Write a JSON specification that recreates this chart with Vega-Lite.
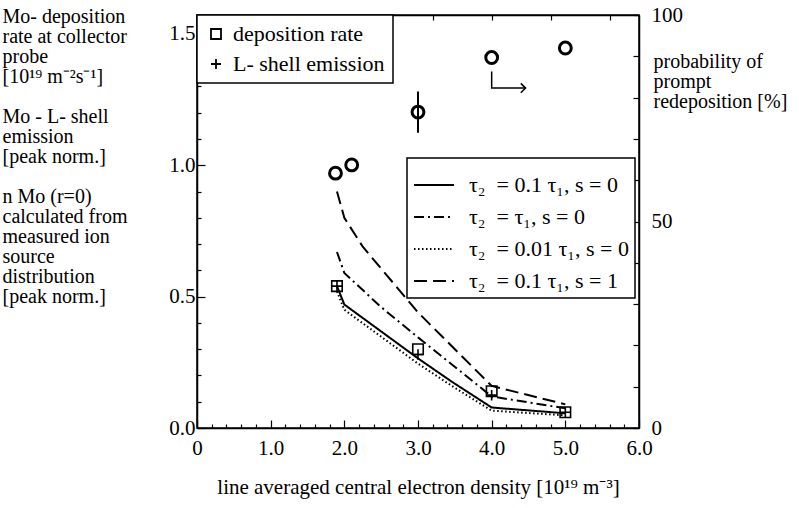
{
  "$schema": "https://vega.github.io/schema/vega-lite/v6.json",
  "width": 442,
  "height": 413,
  "autosize": {"type": "none"},
  "padding": {"left": 197, "top": 15, "right": 160, "bottom": 80},
  "background": "white",
  "config": {
    "font": "Liberation Serif",
    "view": {"stroke": "black", "strokeWidth": 1.5},
    "axis": {
      "labelFont": "Liberation Serif",
      "titleFont": "Liberation Serif",
      "labelColor": "black",
      "titleColor": "black",
      "domainColor": "black",
      "tickColor": "black",
      "grid": false,
      "titleFontWeight": "normal",
      "labelFontSize": 21,
      "titleFontSize": 21,
      "domainWidth": 1.5,
      "tickWidth": 1.2
    },
    "legend": {
      "orient": "none",
      "labelFont": "Liberation Serif",
      "labelFontSize": 22,
      "labelColor": "black",
      "strokeColor": "black",
      "strokeWidth": 1.5,
      "fillColor": "white",
      "labelLimit": 400
    }
  },
  "datasets": {
    "models": [
      {"n": 1.9, "val": 0.54, "model": "τ₂ \u00a0= 0.1 τ₁, s = 0"},
      {"n": 2.0, "val": 0.47, "model": "τ₂ \u00a0= 0.1 τ₁, s = 0"},
      {"n": 3.0, "val": 0.265, "model": "τ₂ \u00a0= 0.1 τ₁, s = 0"},
      {"n": 3.46, "val": 0.176, "model": "τ₂ \u00a0= 0.1 τ₁, s = 0"},
      {"n": 4.0, "val": 0.078, "model": "τ₂ \u00a0= 0.1 τ₁, s = 0"},
      {"n": 5.0, "val": 0.056, "model": "τ₂ \u00a0= 0.1 τ₁, s = 0"},
      {"n": 1.9, "val": 0.67, "model": "τ₂ \u00a0= τ₁, s = 0"},
      {"n": 2.0, "val": 0.59, "model": "τ₂ \u00a0= τ₁, s = 0"},
      {"n": 2.5, "val": 0.46, "model": "τ₂ \u00a0= τ₁, s = 0"},
      {"n": 3.0, "val": 0.345, "model": "τ₂ \u00a0= τ₁, s = 0"},
      {"n": 4.0, "val": 0.12, "model": "τ₂ \u00a0= τ₁, s = 0"},
      {"n": 5.0, "val": 0.075, "model": "τ₂ \u00a0= τ₁, s = 0"},
      {"n": 1.9, "val": 0.52, "model": "τ₂ \u00a0= 0.01 τ₁, s = 0"},
      {"n": 2.0, "val": 0.45, "model": "τ₂ \u00a0= 0.01 τ₁, s = 0"},
      {"n": 3.0, "val": 0.245, "model": "τ₂ \u00a0= 0.01 τ₁, s = 0"},
      {"n": 3.46, "val": 0.16, "model": "τ₂ \u00a0= 0.01 τ₁, s = 0"},
      {"n": 4.0, "val": 0.066, "model": "τ₂ \u00a0= 0.01 τ₁, s = 0"},
      {"n": 5.0, "val": 0.048, "model": "τ₂ \u00a0= 0.01 τ₁, s = 0"},
      {"n": 1.9, "val": 0.9, "model": "τ₂ \u00a0= 0.1 τ₁, s = 1"},
      {"n": 2.0, "val": 0.8, "model": "τ₂ \u00a0= 0.1 τ₁, s = 1"},
      {"n": 2.25, "val": 0.69, "model": "τ₂ \u00a0= 0.1 τ₁, s = 1"},
      {"n": 3.0, "val": 0.44, "model": "τ₂ \u00a0= 0.1 τ₁, s = 1"},
      {"n": 4.0, "val": 0.16, "model": "τ₂ \u00a0= 0.1 τ₁, s = 1"},
      {"n": 5.0, "val": 0.09, "model": "τ₂ \u00a0= 0.1 τ₁, s = 1"}
    ],
    "probe": [
      {"n": 1.9, "val": 0.54, "quantity": "deposition rate"},
      {"n": 3.0, "val": 0.3, "quantity": "deposition rate"},
      {"n": 4.0, "val": 0.14, "quantity": "deposition rate"},
      {"n": 5.0, "val": 0.06, "quantity": "deposition rate"},
      {"n": 1.9, "val": 0.54, "quantity": "L- shell emission"},
      {"n": 3.0, "val": 0.28, "quantity": "L- shell emission"},
      {"n": 4.0, "val": 0.125, "quantity": "L- shell emission"},
      {"n": 5.0, "val": 0.06, "quantity": "L- shell emission"}
    ],
    "redeposition": [
      {"n": 1.88, "p": 61.7},
      {"n": 2.1, "p": 63.7},
      {"n": 3.0, "p": 76.5},
      {"n": 4.0, "p": 89.7},
      {"n": 5.0, "p": 92.0}
    ],
    "errorbar": [
      {"n": 3.0, "lo": 71.5, "hi": 81.5}
    ],
    "arrow": [
      {"n": 4.0, "p": 86.3, "step": 1},
      {"n": 4.0, "p": 82.3, "step": 2},
      {"n": 4.46, "p": 82.3, "step": 3}
    ],
    "arrowhead": [
      {"n": 4.46, "p": 82.3}
    ]
  },
  "layer": [
    {
      "layer": [
        {
          "data": {"name": "models"},
          "mark": {"type": "line", "color": "black", "strokeWidth": 2},
          "encoding": {
            "x": {
              "field": "n", "type": "quantitative",
              "scale": {"domain": [0, 6], "nice": false, "zero": false},
              "axis": {
                "orient": "bottom",
                "values": [0, 1, 2, 3, 4, 5, 6],
                "labelExpr": "datum.value == 0 ? '0' : format(datum.value, '.1f')",
                "labelOverlap": false,
                "labelFlush": false,
                "tickSize": -8,
                "labelPadding": 17,
                "title": "line averaged central electron density [10¹⁹ m⁻³]",
                "titlePadding": 18
              }
            },
            "y": {
              "field": "val", "type": "quantitative",
              "scale": {"domain": [0, 1.572], "nice": false},
              "axis": {
                "orient": "left",
                "values": [0, 0.5, 1.0, 1.5],
                "format": ".1f",
                "labelOverlap": false,
                "labelFlush": false,
                "tickSize": -8,
                "labelPadding": 10,
                "title": ["Mo- deposition", "rate at collector", "probe", "[10¹⁹ m⁻²s⁻¹]", "\u200b", "Mo - L- shell", "emission", "[peak norm.]", "\u200b", "n Mo (r=0)", "calculated from", "measured ion", "source", "distribution", "[peak norm.]"],
                "titleAngle": 0,
                "titleAlign": "left",
                "titleBaseline": "top",
                "titleX": -195,
                "titleY": -9,
                "titleFontSize": 20,
                "titleLineHeight": 20
              }
            },
            "strokeDash": {
              "field": "model", "type": "nominal",
              "scale": {
                "domain": ["τ₂ \u00a0= 0.1 τ₁, s = 0", "τ₂ \u00a0= τ₁, s = 0", "τ₂ \u00a0= 0.01 τ₁, s = 0", "τ₂ \u00a0= 0.1 τ₁, s = 1"],
                "range": [[1, 0], [10, 4, 2, 4], [1.5, 2.5], [13, 6]]
              },
              "legend": {
                "title": null,
                "orient": "none",
                "legendX": 210,
                "legendY": 143,
                "symbolType": "stroke",
                "symbolSize": 1600,
                "symbolStrokeColor": "black",
                "symbolStrokeWidth": 2,
                "labelOffset": 14,
                "rowPadding": 0,
                "padding": 6
              }
            }
          }
        },
        {
          "data": {"name": "probe"},
          "mark": {"type": "point", "filled": false, "color": "black", "strokeWidth": 1.6, "size": 110, "opacity": 1},
          "encoding": {
            "x": {"field": "n", "type": "quantitative", "scale": {"domain": [0, 6], "nice": false, "zero": false}},
            "y": {"field": "val", "type": "quantitative", "scale": {"domain": [0, 1.572], "nice": false}},
            "shape": {
              "field": "quantity", "type": "nominal",
              "scale": {"domain": ["deposition rate", "L- shell emission"], "range": ["square", "M-1,0L1,0M0,-1L0,1"]},
              "legend": {
                "title": null,
                "orient": "none",
                "legendX": 0,
                "legendY": 0,
                "symbolStrokeColor": "black",
                "symbolStrokeWidth": 1.8,
                "symbolFillColor": "transparent",
                "symbolSize": 100,
                "labelOffset": 6,
                "rowPadding": 8,
                "padding": 8
              }
            }
          }
        }
      ]
    },
    {
      "layer": [
        {
          "data": {"name": "redeposition"},
          "mark": {"type": "point", "filled": false, "color": "black", "strokeWidth": 3, "size": 140, "opacity": 1},
          "encoding": {
            "x": {
              "field": "n", "type": "quantitative",
              "scale": {"domain": [0, 6], "nice": false, "zero": false},
              "axis": {
                "orient": "top",
                "values": [0, 0.2, 0.4, 0.6, 0.8, 1, 1.2, 1.4, 1.6, 1.8, 2, 2.2, 2.4, 2.6, 2.8, 3, 3.2, 3.4, 3.6, 3.8, 4, 4.2, 4.4, 4.6, 4.8, 5, 5.2, 5.4, 5.6, 5.8, 6],
                "labels": false,
                "tickSize": -5,
                "title": null
              }
            },
            "y": {
              "field": "p", "type": "quantitative",
              "scale": {"domain": [0, 100], "nice": false},
              "axis": {
                "orient": "right",
                "values": [0, 10, 20, 30, 40, 50, 60, 70, 80, 90, 100],
                "labelExpr": "datum.value % 50 == 0 ? format(datum.value, 'd') : ''",
                "labelOverlap": false,
                "labelFlush": false,
                "tickSize": -6,
                "labelPadding": 18,
                "labelAlign": "left",
                "title": ["probability of", "prompt", "redeposition [%]"],
                "titleAngle": 0,
                "titleAlign": "left",
                "titleBaseline": "top",
                "titleX": 14,
                "titleY": 36,
                "titleFontSize": 20,
                "titleLineHeight": 20
              }
            }
          }
        },
        {
          "data": {"name": "errorbar"},
          "mark": {"type": "rule", "color": "black", "strokeWidth": 2},
          "encoding": {
            "x": {"field": "n", "type": "quantitative"},
            "y": {"field": "lo", "type": "quantitative"},
            "y2": {"field": "hi"}
          }
        },
        {
          "data": {"name": "arrow"},
          "mark": {"type": "line", "color": "black", "strokeWidth": 1.5},
          "encoding": {
            "x": {"field": "n", "type": "quantitative"},
            "y": {"field": "p", "type": "quantitative"},
            "order": {"field": "step", "type": "quantitative"}
          }
        },
        {
          "data": {"name": "arrowhead"},
          "mark": {"type": "point", "shape": "M-1,-1L0,0L-1,1", "filled": false, "color": "black", "strokeWidth": 1.5, "size": 90, "opacity": 1},
          "encoding": {
            "x": {"field": "n", "type": "quantitative"},
            "y": {"field": "p", "type": "quantitative"}
          }
        }
      ]
    },
    {
      "data": {"name": "models"},
      "mark": {"type": "point", "opacity": 0},
      "encoding": {
        "x": {
          "field": "n", "type": "quantitative",
          "scale": {"domain": [0, 6], "nice": false, "zero": false},
          "axis": {
            "orient": "bottom",
            "values": [0.2, 0.4, 0.6, 0.8, 1.2, 1.4, 1.6, 1.8, 2.2, 2.4, 2.6, 2.8, 3.2, 3.4, 3.6, 3.8, 4.2, 4.4, 4.6, 4.8, 5.2, 5.4, 5.6, 5.8],
            "labels": false,
            "domain": false,
            "tickSize": -4,
            "title": null
          }
        },
        "y": {
          "field": "val", "type": "quantitative",
          "scale": {"domain": [0, 1.572], "nice": false},
          "axis": {
            "orient": "left",
            "values": [0.1, 0.2, 0.3, 0.4, 0.6, 0.7, 0.8, 0.9, 1.1, 1.2, 1.3, 1.4],
            "labels": false,
            "domain": false,
            "tickSize": -4,
            "title": null
          }
        }
      }
    }
  ],
  "resolve": {"scale": {"y": "independent"}, "axis": {"x": "independent"}}
}
